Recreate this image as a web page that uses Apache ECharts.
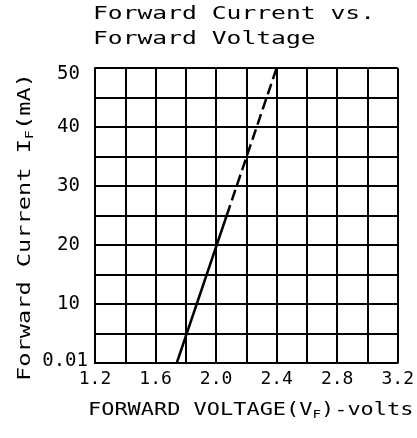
<!DOCTYPE html>
<html>
<head>
<meta charset="utf-8">
<script src="https://cdn.jsdelivr.net/npm/echarts@6/dist/echarts.min.js"></script>
<style>
html,body{margin:0;padding:0;background:#fff;}
#chart{width:417px;height:438px;}
</style>
</head>
<body>
<div id="chart"></div>
<script>
// Data
var solidVoltage = [1.74, 2.07];
var solidCurrent = [0, 25];
var dashedVoltage = [2.07, 2.4];
var dashedCurrent = [25, 50];
var xTickValues = [1.2, 1.6, 2.0, 2.4, 2.8, 3.2];
var xTickLabels = ['1.2', '1.6', '2.0', '2.4', '2.8', '3.2'];
var yTickValues = [0, 10, 20, 30, 40, 50];
var yTickLabels = ['0.01', '10', '20', '30', '40', '50'];

function pairs(xs, ys) { return xs.map(function (x, i) { return [x, ys[i]]; }); }
function findLabel(vals, labels, v) {
  for (var i = 0; i < vals.length; i++) if (Math.abs(vals[i] - v) < 1e-6) return labels[i];
  return '';
}

var FONT = '"DejaVu Sans Mono"';
var chart = echarts.init(document.getElementById('chart'), null, { renderer: 'canvas' });
chart.setOption({
  animation: false,
  backgroundColor: '#fff',
  grid: { left: 95, right: 15, top: 68, bottom: 75, show: false },
  xAxis: {
    type: 'value', min: 1.2, max: 3.2, interval: 0.2,
    axisLine: { show: true, lineStyle: { color: '#000', width: 2 } },
    axisTick: { show: false },
    splitLine: { show: true, lineStyle: { color: '#000', width: 2 } },
    axisLabel: {
      color: '#000', fontFamily: FONT, fontSize: 18, margin: 7,
      formatter: function (v) { return findLabel(xTickValues, xTickLabels, v); }
    }
  },
  yAxis: {
    type: 'value', min: 0, max: 50, interval: 5,
    axisLine: { show: true, lineStyle: { color: '#000', width: 2 } },
    axisTick: { show: false },
    splitLine: { show: true, lineStyle: { color: '#000', width: 2 } },
    axisLabel: {
      color: '#000', fontFamily: FONT, fontSize: 19, lineHeight: 12, margin: 7, align: 'right',
      verticalAlignMaxLabel: 'top',
      formatter: function (v) {
        var s = findLabel(yTickValues, yTickLabels, v);
        if (!s) return '';
        return v === 0 ? '{z|' + s + '}' : '{a|' + s + '}';
      },
      rich: {
        a: { fontFamily: FONT, fontSize: 19, lineHeight: 12, color: '#000', padding: [0, 8, 0, 0] },
        z: { fontFamily: FONT, fontSize: 19, lineHeight: 12, color: '#000', padding: [0, 0, 4, 0] }
      }
    }
  },
  graphic: [
    { type: 'text', x: 93, y: 15, scaleX: 1.45, style: { text: 'Forward Current vs.', font: '17px ' + FONT, fill: '#000', align: 'left', verticalAlign: 'middle' } },
    { type: 'text', x: 93, y: 40, scaleX: 1.45, style: { text: 'Forward Voltage', font: '17px ' + FONT, fill: '#000', align: 'left', verticalAlign: 'middle' } },
    { type: 'text', x: 88, y: 411, scaleX: 1.29, style: {
        text: '{a|FORWARD VOLTAGE(V}{s|F}{a|)-volts}', align: 'left', verticalAlign: 'middle',
        rich: { a: { font: '17px ' + FONT, fill: '#000' }, s: { font: '11px ' + FONT, fill: '#000', padding: [8, 0, 0, 0] } }
      } },
    { type: 'text', x: 26, y: 227, rotation: Math.PI / 2, scaleX: 1.39, style: {
        text: '{a|Forward Current I}{s|F}{a|(mA)}', align: 'center', verticalAlign: 'middle',
        rich: { a: { font: '17px ' + FONT, fill: '#000' }, s: { font: '11px ' + FONT, fill: '#000', padding: [8, 0, 0, 0] } }
      } }
  ],
  series: [
    { type: 'line', data: pairs(solidVoltage, solidCurrent), symbol: 'none', lineStyle: { color: '#000', width: 2.5 }, z: 5 },
    { type: 'line', data: pairs(dashedVoltage, dashedCurrent), symbol: 'none', lineStyle: { color: '#000', width: 2.5, type: [11, 5] }, z: 5 }
  ]
});
</script>
</body>
</html>
